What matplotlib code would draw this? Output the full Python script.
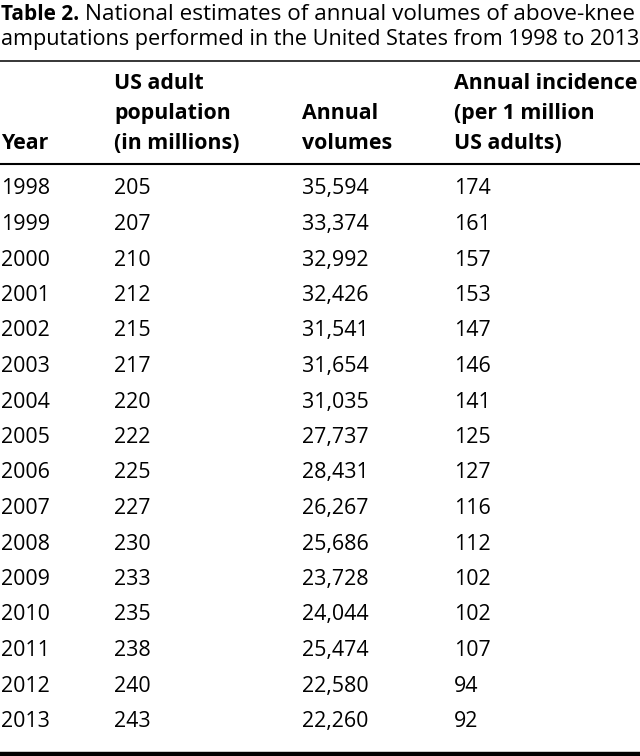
import matplotlib
matplotlib.use("Agg")
import matplotlib.pyplot as plt

years = [1998, 1999, 2000, 2001, 2002, 2003, 2004, 2005, 2006, 2007, 2008, 2009, 2010, 2011, 2012, 2013]
population = [205, 207, 210, 212, 215, 217, 220, 222, 225, 227, 230, 233, 235, 238, 240, 243]
volumes = ["35,594", "33,374", "32,992", "32,426", "31,541", "31,654", "31,035", "27,737",
           "28,431", "26,267", "25,686", "23,728", "24,044", "25,474", "22,580", "22,260"]
incidence = [174, 161, 157, 153, 147, 146, 141, 125, 127, 116, 112, 102, 102, 107, 94, 92]

headers = ["Year", "US adult\npopulation\n(in millions)", "Annual\nvolumes", "Annual incidence\n(per 1 million\nUS adults)"]
title_bold = "Table 2."
title_rest_1 = " National estimates of annual volumes of above-knee"
title_2 = "amputations performed in the United States from 1998 to 2013"

W, H = 640, 756
fig = plt.figure(figsize=(6.4, 7.56), dpi=100)
ax = fig.add_axes([0, 0, 1, 1])
ax.set_xlim(0, W)
ax.set_ylim(H, 0)
ax.axis("off")

FONT = "Open Sans"
fs = 15.4

# title
t1 = ax.text(1, 20, title_bold, fontsize=15.0, fontweight="bold", family=FONT, va="baseline", ha="left")
fig.canvas.draw()
bb = t1.get_window_extent()
ax.text(bb.x1, 20, title_rest_1, fontsize=16.2, family=FONT, va="baseline", ha="left")
ax.text(1, 45, title_2, fontsize=15.6, family=FONT, va="baseline", ha="left")

# rules
ax.plot([0, W], [61, 61], color="black", lw=1.1, solid_capstyle="butt")
ax.plot([0, W], [164, 164], color="black", lw=1.5, solid_capstyle="butt")
ax.plot([0, W], [754, 754], color="black", lw=3.2, solid_capstyle="butt")

colx = [1, 114, 302, 454]
line_y = [89, 119, 149]
for x, h in zip(colx, headers):
    lines = h.split("\n")
    start = 3 - len(lines)
    for i, ln in enumerate(lines):
        ax.text(x, line_y[start + i], ln, fontsize=fs, fontweight="bold", family=FONT, va="baseline", ha="left")

y0, dy = 194.5, 35.5
for i in range(len(years)):
    y = round(y0 + i * dy)
    vals = [str(years[i]), str(population[i]), volumes[i], str(incidence[i])]
    for x, v in zip(colx, vals):
        ax.text(x, y, v, fontsize=fs, family=FONT, va="baseline", ha="left")

fig.savefig("out.png", dpi=100)
